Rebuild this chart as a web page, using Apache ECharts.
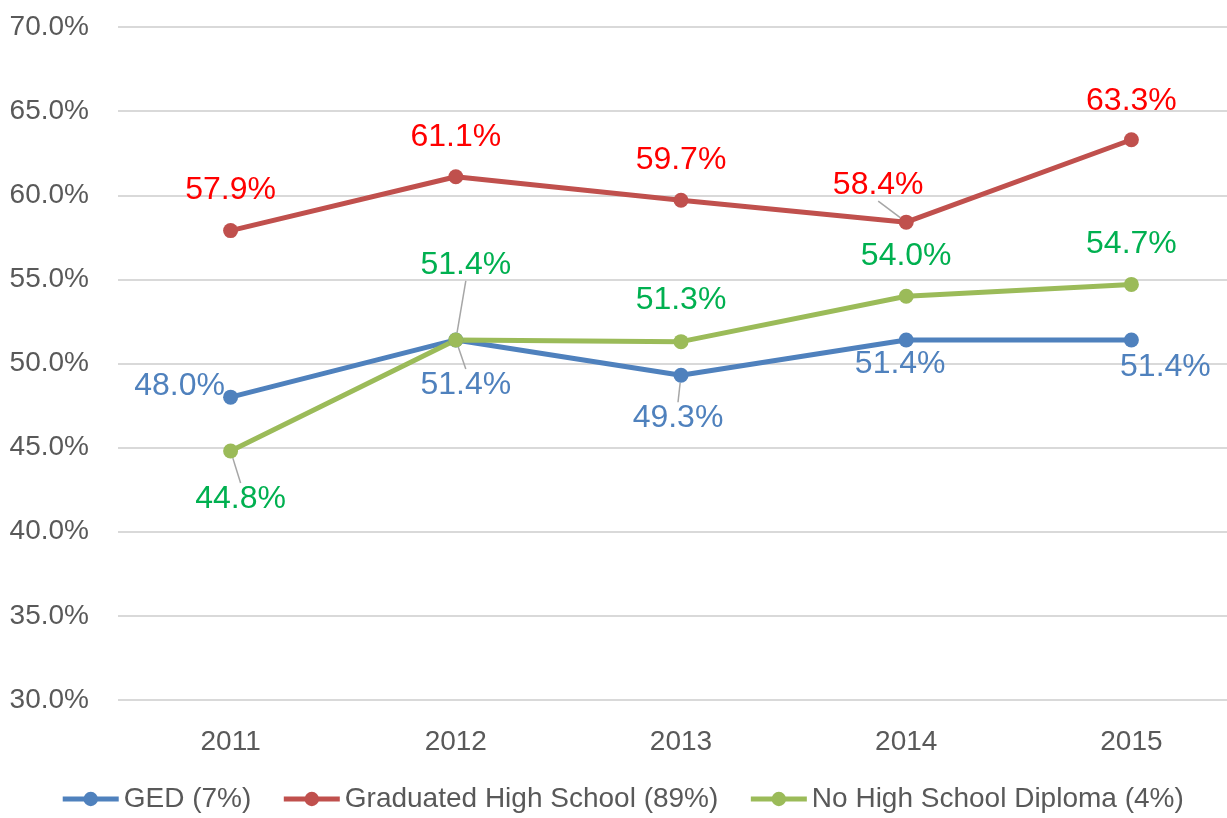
<!DOCTYPE html>
<html>
<head>
<meta charset="utf-8">
<script src="https://cdn.jsdelivr.net/npm/echarts@6/dist/echarts.min.js"></script>
<style>
  html, body { margin: 0; padding: 0; background: #fff; overflow: hidden; }
  #chart { width: 1244px; height: 818px; }
</style>
</head>
<body>
<div id="chart"></div>
<script>
var years = ['2011', '2012', '2013', '2014', '2015']
var gedData = [48.0, 51.4, 49.3, 51.4, 51.4]
var gradData = [57.9, 61.1, 59.7, 58.4, 63.3]
var noDiplomaData = [44.8, 51.4, 51.3, 54.0, 54.7]
var seriesNames = ['GED (7%)', 'Graduated High School (89%)', 'No High School Diploma (4%)']

// label offsets from each point (dx, dy), plus whether a leader line is drawn
var gedLabels = [[-51, -11, false], [10, 45, true], [-3, 43, true], [-6, 24, false], [34, 27, false]]
var gradLabels = [[0, -40, false], [0, -40, false], [0, -40, false], [-28, -37, true], [0, -39, false]]
var noDiplomaLabels = [[10, 48, true], [10, -75, true], [0, -41, false], [0, -40, false], [0, -40, false]]

var font = 'Liberation Sans'

function makeSeries(name, values, color, labelColor, offsets) {
  return {
    name: name,
    type: 'line',
    data: values.map(function (v, i) {
      return {
        value: v,
        labelLine: { show: offsets[i][2] }
      }
    }),
    symbol: 'circle',
    symbolSize: 15,
    lineStyle: { color: color, width: 5 },
    itemStyle: { color: color },
    label: {
      show: true,
      position: 'inside',
      color: labelColor,
      fontFamily: font,
      fontSize: 32,
      formatter: function (p) { return p.value.toFixed(1) + '%' }
    },
    labelLine: {
      show: false,
      lineStyle: { color: '#a6a6a6', width: 1.5 }
    },
    labelLayout: function (p) {
      var o = offsets[p.dataIndex]
      return { dx: o[0], dy: o[1] }
    },
    animation: false
  }
}

var chart = echarts.init(document.getElementById('chart'))
chart.setOption({
  backgroundColor: '#fff',
  grid: { left: 118, right: 0, top: 27, bottom: 118 },
  legend: {
    bottom: 0,
    left: 'center',
    itemWidth: 56,
    itemHeight: 18,
    itemGap: 30,
    lineStyle: { width: 5 },
    textStyle: { color: '#595959', fontFamily: font, fontSize: 28 },
    data: seriesNames
  },
  xAxis: {
    type: 'category',
    data: years,
    boundaryGap: true,
    axisLine: { show: false },
    axisTick: { show: false },
    axisLabel: { color: '#595959', fontFamily: font, fontSize: 28, margin: 28 }
  },
  yAxis: {
    type: 'value',
    min: 30,
    max: 70,
    interval: 5,
    axisLine: { show: false },
    axisTick: { show: false },
    axisLabel: {
      color: '#595959', fontFamily: font, fontSize: 28, margin: 29,
      formatter: function (v) { return v.toFixed(1) + '%' }
    },
    splitLine: { lineStyle: { color: '#d9d9d9', width: 2 } }
  },
  series: [
    makeSeries(seriesNames[0], gedData, '#4f81bd', '#4f81bd', gedLabels),
    makeSeries(seriesNames[1], gradData, '#c0504d', '#ff0000', gradLabels),
    makeSeries(seriesNames[2], noDiplomaData, '#9bbb59', '#00b050', noDiplomaLabels)
  ]
})
</script>
</body>
</html>
